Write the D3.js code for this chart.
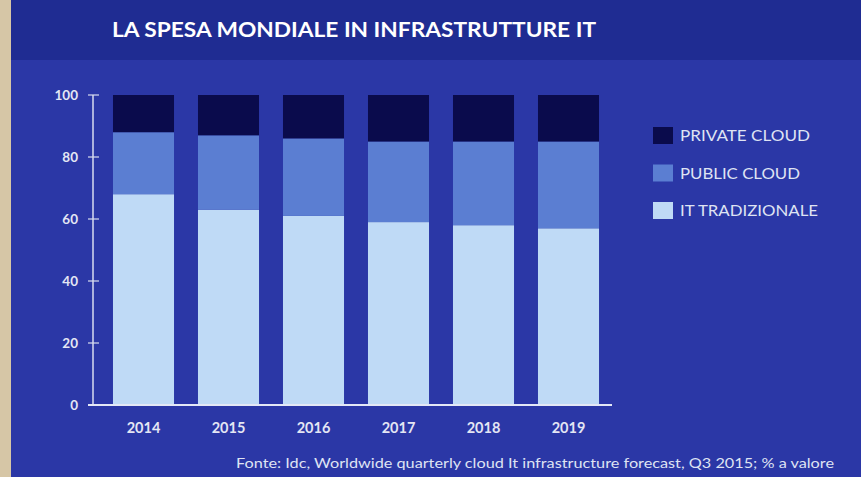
<!DOCTYPE html>
<html>
<head>
<meta charset="utf-8">
<script src="https://cdn.jsdelivr.net/npm/d3@7"></script>
<style>
  html, body { margin: 0; padding: 0; background: #2a37a3; }
  svg { display: block; font-family: Lato, "Open Sans", sans-serif; }
</style>
</head>
<body>
<svg id="chart"></svg>
<script>
// data
const years = ['2014', '2015', '2016', '2017', '2018', '2019'];
const itTradizionale = [68, 63, 61, 59, 58, 57];
const publicCloud = [20, 24, 25, 26, 27, 28];
const privateCloud = [12, 13, 14, 15, 15, 15];
const yTicks = [0, 20, 40, 60, 80, 100];
const seriesNames = ['IT TRADIZIONALE', 'PUBLIC CLOUD', 'PRIVATE CLOUD'];
const legendOrder = ['PRIVATE CLOUD', 'PUBLIC CLOUD', 'IT TRADIZIONALE'];
const legendWidths = [130, 120, 138];

const W = 861, H = 477;
const svg = d3.select('#chart').attr('width', W).attr('height', H);

// background, header band, paper edge
svg.append('rect').attr('width', W).attr('height', H).attr('fill', '#2b37a6');
svg.append('rect').attr('width', W).attr('height', 60).attr('fill', '#1f2c92');
svg.append('rect').attr('width', 11).attr('height', H).attr('fill', '#d6c6a6');

svg.append('text')
    .attr('x', 112).attr('y', 37)
    .attr('fill', '#ffffff')
    .attr('font-size', 20).attr('font-weight', 700)
    .attr('textLength', 484).attr('lengthAdjust', 'spacingAndGlyphs')
    .text('LA SPESA MONDIALE IN INFRASTRUTTURE IT');

const margin = { top: 95, left: 93, bottom: 72 };
const plotH = H - margin.top - margin.bottom; // 310

const g = svg.append('g').attr('transform', `translate(${margin.left}, ${margin.top})`);

const x = d3.scaleBand().domain(years).range([8, 518]).paddingInner(0.282).paddingOuter(0.141);
const y = d3.scaleLinear().domain([0, 100]).range([plotH, 0]);

const colors = d3.scaleOrdinal()
    .domain(seriesNames)
    .range(['#bfdaf6', '#5b7ed2', '#0a0b4c']);

const table = years.map((yr, i) => ({
    year: yr,
    'IT TRADIZIONALE': itTradizionale[i],
    'PUBLIC CLOUD': publicCloud[i],
    'PRIVATE CLOUD': privateCloud[i]
}));
const stacked = d3.stack().keys(seriesNames)(table);

g.selectAll('g.layer')
    .data(stacked)
    .join('g')
    .attr('class', 'layer')
    .attr('fill', d => colors(d.key))
    .selectAll('rect')
    .data(d => d)
    .join('rect')
    .attr('x', d => x(d.data.year))
    .attr('width', x.bandwidth())
    .attr('y', d => y(d[1]))
    .attr('height', d => y(d[0]) - y(d[1]));

// y axis
const yAxis = g.append('g')
    .call(d3.axisLeft(y).tickValues(yTicks).tickSize(0).tickPadding(15));
yAxis.select('.domain').remove();
yAxis.selectAll('text')
    .attr('fill', '#e4e6f4').attr('font-size', 13.5).attr('font-weight', 700)
    .attr('font-family', 'Lato, sans-serif');

g.append('line')
    .attr('x1', 0).attr('x2', 0).attr('y1', y(100)).attr('y2', y(0))
    .attr('stroke', '#d8dcef').attr('stroke-width', 1.5);
g.selectAll('line.tick')
    .data(yTicks)
    .join('line')
    .attr('class', 'tick')
    .attr('x1', -5).attr('x2', 6)
    .attr('y1', d => y(d)).attr('y2', d => y(d))
    .attr('stroke', '#d8dcef').attr('stroke-width', 1.2);

// baseline
g.append('line')
    .attr('x1', -5).attr('x2', 519).attr('y1', y(0)).attr('y2', y(0))
    .attr('stroke', '#e4e8f6').attr('stroke-width', 2);

// x labels
const xAxis = g.append('g')
    .attr('transform', `translate(0, ${plotH})`)
    .call(d3.axisBottom(x).tickSize(0).tickPadding(18));
xAxis.select('.domain').remove();
xAxis.selectAll('text')
    .attr('fill', '#e4e6f4').attr('font-size', 14.5).attr('font-weight', 700)
    .attr('font-family', 'Lato, sans-serif');

// legend
const legend = svg.append('g').attr('transform', 'translate(653, 127)');
legendOrder.forEach((name, i) => {
    const row = legend.append('g').attr('transform', `translate(0, ${i * 37.5})`);
    row.append('rect').attr('width', 20).attr('height', 17).attr('fill', colors(name));
    row.append('text')
        .attr('x', 27).attr('y', 14)
        .attr('fill', '#dfe3f3').attr('font-size', 15.5)
        .attr('textLength', legendWidths[i]).attr('lengthAdjust', 'spacingAndGlyphs')
        .text(name);
});

// source
svg.append('text')
    .attr('x', 834).attr('y', 468)
    .attr('text-anchor', 'end')
    .attr('fill', '#dfe3f3').attr('font-size', 13)
    .attr('textLength', 598).attr('lengthAdjust', 'spacingAndGlyphs')
    .text('Fonte: Idc, Worldwide quarterly cloud It infrastructure forecast, Q3 2015; % a valore');
</script>
</body>
</html>
